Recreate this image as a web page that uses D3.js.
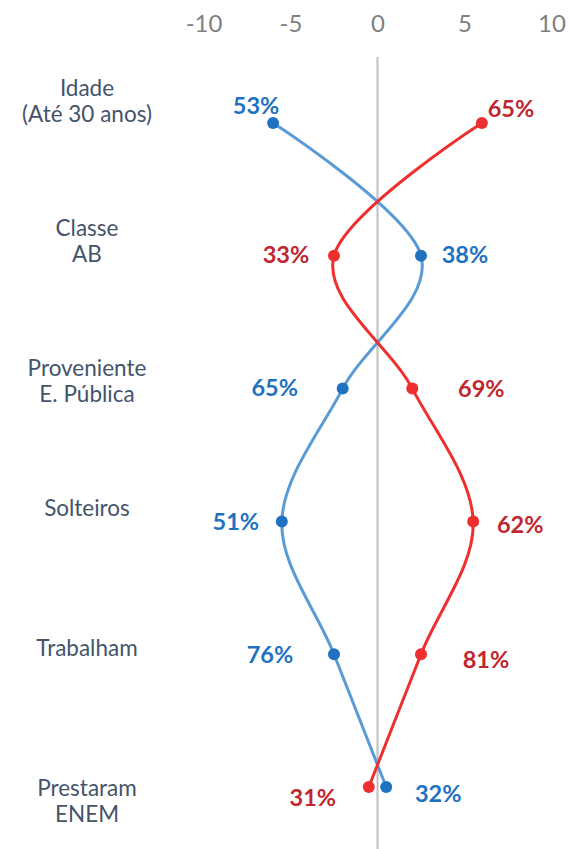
<!DOCTYPE html>
<html>
<head>
<meta charset="utf-8">
<script src="https://cdn.jsdelivr.net/npm/d3@7"></script>
<style>
  body { margin: 0; background: #fff; }
  svg { font-family: Lato, "Open Sans", sans-serif; }
</style>
</head>
<body>
<svg></svg>
<script>
var width = 570;
var height = 849;

// categories (top to bottom), with line breaks
const categories = ["Idade\n(Até 30 anos)", "Classe\nAB", "Proveniente\nE. Pública", "Solteiros", "Trabalham", "Prestaram\nENEM"];

// series values on the x axis
const blueValues = [-6, 2.5, -2, -5.5, -2.5, 0.5];
const redValues = [6, -2.5, 2, 5.5, 2.5, -0.5];

// data labels
const blueLabels = ["53%", "38%", "65%", "51%", "76%", "32%"];
const redLabels = ["65%", "33%", "69%", "62%", "81%", "31%"];

// axis ticks
const xTicks = [-10, -5, 0, 5, 10];

// label placement relative to the point (dx, dy)
const blueLabelOffset = [[-17, -18], [44, -2], [-68, -2], [-46, 0], [-64, 0], [52, 6]];
const redLabelOffset = [[29, -15], [-48, -2], [69, -1], [47, 3], [65, 5], [-56, 10]];

var svg = d3.select("svg").attr("width", width).attr("height", height);

// Scales
let xScale = d3.scaleLinear().domain([-10, 10]).range([203.5, 551.5]);
let yScale = d3.scalePoint().domain(categories).range([123, 787]);
let labelScale = d3.scalePoint().domain(categories).range([87, 787]);

// Top axis (labels only)
let x_Axis = d3.axisTop(xScale).tickValues(xTicks).tickSize(0).tickPadding(0).tickFormat(d3.format("d"));
let gx = svg.append("g").attr("transform", "translate(0,32)").call(x_Axis);
gx.select(".domain").remove();
gx.selectAll("text")
    .attr("dy", 0)
    .style("font-size", "24px")
    .style("font-family", "Lato")
    .attr("fill", "#7f7f7f")
    .text(d => d < 0 ? "-" + Math.abs(d) : d);

// zero line
svg.append("line")
    .attr("x1", xScale(0)).attr("x2", xScale(0))
    .attr("y1", 57).attr("y2", height)
    .attr("stroke", "#bfbfbf")
    .attr("stroke-width", 2);

// Category labels
categories.forEach((c) => {
    let lines = c.split("\n");
    let t = svg.append("text")
        .attr("text-anchor", "middle")
        .attr("fill", "#44546a")
        .style("font-size", "22.5px");
    lines.forEach((l, i) => {
        t.append("tspan")
            .attr("x", 87)
            .attr("y", labelScale(c) + i * 26)
            .attr("dominant-baseline", "central")
            .text(l);
    });
});

function drawSeries(values, labels, offsets, lineColor, dotColor, textColor) {
    let pts = values.map((v, i) => ({ v: v, c: categories[i], label: labels[i], off: offsets[i] }));

    let line = d3.line()
        .x(d => xScale(d.v))
        .y(d => yScale(d.c))
        .curve(d3.curveCatmullRom.alpha(0));

    svg.append("path")
        .datum(pts)
        .attr("d", line)
        .attr("fill", "none")
        .attr("stroke", lineColor)
        .attr("stroke-width", 3);

    svg.selectAll(null).data(pts).enter()
        .append("circle")
        .attr("cx", d => xScale(d.v))
        .attr("cy", d => yScale(d.c))
        .attr("r", 6)
        .attr("fill", dotColor);

    svg.selectAll(null).data(pts).enter()
        .append("text")
        .attr("x", d => xScale(d.v) + d.off[0])
        .attr("y", d => yScale(d.c) + d.off[1])
        .attr("text-anchor", "middle")
        .attr("dominant-baseline", "central")
        .attr("fill", textColor)
        .style("font-size", "23.5px")
        .style("font-weight", "bold")
        .text(d => d.label);
}

drawSeries(blueValues, blueLabels, blueLabelOffset, "#5b9bd5", "#1f72bf", "#1f72bf");
drawSeries(redValues, redLabels, redLabelOffset, "#ee2f2f", "#ee2f2f", "#c0262d");
</script>
</body>
</html>
